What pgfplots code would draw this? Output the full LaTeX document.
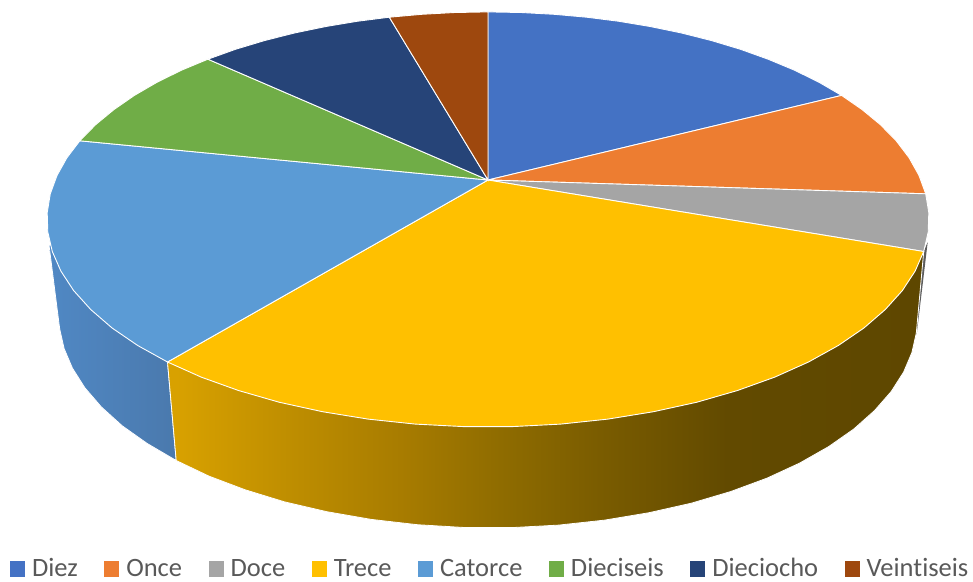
\documentclass[border=0pt]{standalone}
\usepackage{pgfplots}
\pgfplotsset{compat=1.18}
\usepackage{fontspec}
\setmainfont{Carlito}[Ligatures=NoCommon]

\definecolor{cDiez}{HTML}{4472C4}
\definecolor{cOnce}{HTML}{ED7D31}
\definecolor{cDoce}{HTML}{A5A5A5}
\definecolor{cTrece}{HTML}{FFC000}
\definecolor{cCatorce}{HTML}{5B9BD5}
\definecolor{cDieciseis}{HTML}{70AD47}
\definecolor{cDieciocho}{HTML}{264478}
\definecolor{cVeintiseis}{HTML}{9E480E}
\definecolor{wallA}{HTML}{D8A100}
\definecolor{wallA2}{HTML}{BC8C00}
\definecolor{wallB}{HTML}{A87C00}
\definecolor{wallB2}{HTML}{8F6C00}
\definecolor{wallC}{HTML}{7A5C00}
\definecolor{wallD}{HTML}{624A00}
\definecolor{wallE}{HTML}{5E4700}
\definecolor{wallLeft}{HTML}{5088C4}
\definecolor{wallRight}{HTML}{4A79AD}
\definecolor{legendtext}{HTML}{595959}

% Horizontal shade of the long front wall
\pgfdeclarehorizontalshading{trecewall}{100bp}{
  color(0bp)=(wallA); color(25.6bp)=(wallA); color(33.8bp)=(wallA2);
  color(40.4bp)=(wallB); color(47bp)=(wallB2);
  color(53.6bp)=(wallC); color(62bp)=(wallD); color(75bp)=(wallE);
  color(100bp)=(wallE)}

\begin{document}
\begin{tikzpicture}
\path[use as bounding box] (0,0) rectangle (973pt,581pt);
% Shares of the pie: Diez 4, Once 2, Doce 1, Trece 7, Catorce 4,
% Dieciseis 2, Dieciocho 2, Veintiseis 1 (out of 23); each outline below
% runs along the tilted disc for the angle its share takes up.
\begin{axis}[
  scale only axis, width=973pt, height=581pt,
  xmin=0, xmax=973, ymin=0, ymax=581, y dir=reverse,
  hide axis, clip=false,
  legend columns=8,
  legend style={
    at={(axis cs:10,568.5)}, anchor=west, draw=none, fill=none,
    inner sep=0pt, outer sep=0pt,
    font=\fontsize{26.5}{30}\selectfont\color{legendtext},
    nodes={inner xsep=0pt, inner ysep=1pt},
    /tikz/every even column/.append style={column sep=26.5pt},
    /tikz/every odd column/.append style={column sep=7pt},
  },
  legend image code/.code={
    \fill[#1,draw=none] (0pt,-8pt) rectangle (15pt,8pt);
  },
  slice/.style={line width=0.9pt, draw=white, fill=#1},
]

% Side walls, back to front
\addplot[forget plot, fill=black!64, draw=none] coordinates {
  (923.7,251.5) (927.7,242) (916.6,335) (916.3,333)} -- cycle;

\addplot[forget plot, left color=wallLeft, right color=wallRight,
  draw=white, line width=0.8pt] coordinates {
  (167.5,362) (176.2,460.5) (147.2,443.5) (122.2,425.8) (101.4,407)
  (84.8,387.7) (72.4,368.1) (64.1,348.5) (59.7,329) (49,245) (100,250)} -- cycle;

\addplot[forget plot, shade, shading=trecewall, draw=white, line width=0.8pt] coordinates {
  (923.7,251.5) (916.3,333) (911.9,352.5) (903.6,372.1) (891.2,391.5)
  (874.6,410.5) (853.8,429.0) (828.8,446.5) (799.8,463.0) (767.1,478.1)
  (730.8,491.5) (691.3,503.2) (649.0,512.7) (604.7,520.1) (558.6,525.1)
  (511.6,527.6) (464.4,527.5) (417.4,524.7) (371.3,519.4) (326.9,511.7)
  (284.7,501.9) (245.2,489.8) (208.9,476.1) (176.2,460.5) (167.5,362)
  (488,180)} -- cycle;

% Top faces of the slices
\addplot[slice=cDiez] coordinates {
  (488,180) (488,11.9) (521.1,12.5) (554.1,14.3) (586.7,17.2) (619.0,21.3)
  (650.6,26.6) (681.6,33.0) (711.6,40.6) (740.5,49.3) (768.1,59.2)
  (794.3,70.1) (818.9,82.2) (841.6,95.4)} -- cycle;
\addlegendentry{Diez}

\addplot[slice=cOnce] coordinates {
  (488,180) (841.6,95.4) (862.1,109.6) (880.4,124.7) (896.2,140.8)
  (909.1,157.8) (919.0,175.5) (925.7,193.8)} -- cycle;
\addlegendentry{Once}

\addplot[slice=cDoce] coordinates {
  (488,180) (925.7,193.8) (928.8,212.7) (928.2,232.0) (923.7,251.5)} -- cycle;
\addlegendentry{Doce}

\addplot[slice=cTrece] coordinates {
  (488,180) (923.7,251.5) (915.1,271.1) (902.4,290.5) (885.3,309.5)
  (863.9,328.0) (838.3,345.5) (808.5,362.0) (774.8,377.1) (737.5,390.5)
  (696.9,402.2) (653.5,411.7) (607.9,419.1) (560.6,424.1) (512.3,426.6)
  (463.7,426.6) (415.4,424.1) (368.1,419.1) (322.5,411.7) (279.1,402.2)
  (238.5,390.5) (201.2,377.1) (167.5,362.0)} -- cycle;
\addlegendentry{Trece}

\addplot[slice=cCatorce] coordinates {
  (488,180) (167.5,362.0) (137.7,345.5) (112.1,328.0) (90.7,309.5)
  (73.6,290.5) (60.9,271.1) (52.3,251.5) (47.8,232.0) (47.2,212.7)
  (50.3,193.8) (57.0,175.5) (66.9,157.8) (79.8,140.8)} -- cycle;
\addlegendentry{Catorce}

\addplot[slice=cDieciseis] coordinates {
  (488,180) (79.8,140.8) (95.6,124.7) (113.9,109.6) (134.4,95.4)
  (157.1,82.2) (181.7,70.1) (207.9,59.2)} -- cycle;
\addlegendentry{Dieciseis}

\addplot[slice=cDieciocho] coordinates {
  (488,180) (207.9,59.2) (235.5,49.3) (264.4,40.6) (294.4,33.0)
  (325.4,26.6) (357.0,21.3) (389.3,17.2)} -- cycle;
\addlegendentry{Dieciocho}

\addplot[slice=cVeintiseis] coordinates {
  (488,180) (389.3,17.2) (421.9,14.3) (454.9,12.5) (488,11.9)} -- cycle;
\addlegendentry{Veintiseis}

\end{axis}
\end{tikzpicture}
\end{document}
